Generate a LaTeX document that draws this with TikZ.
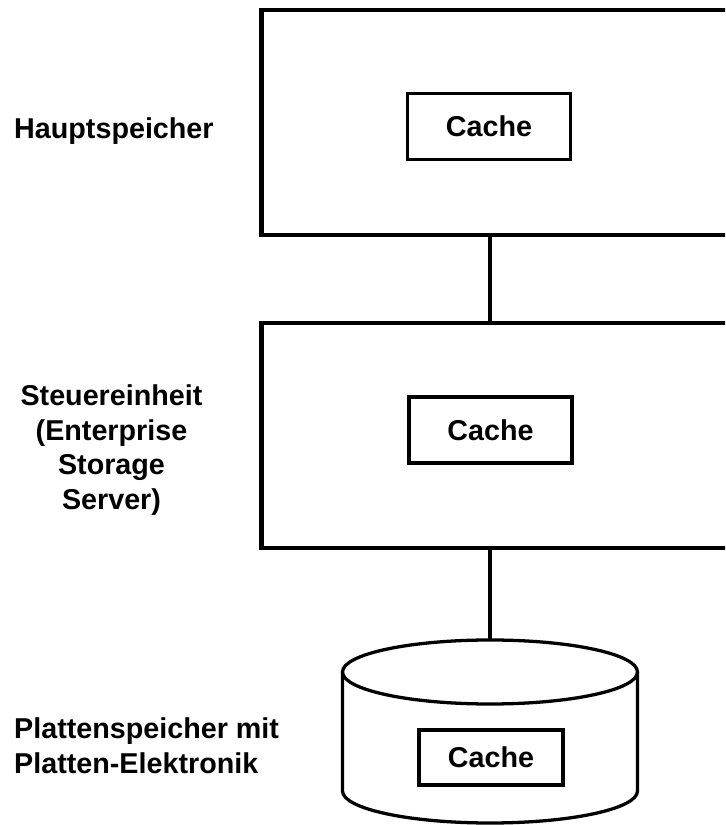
\documentclass[tikz,border=0pt]{standalone}
\usepackage{fontspec}
\setmainfont{Liberation Sans}
\usetikzlibrary{positioning, calc}

\begin{document}
\begin{tikzpicture}[x=0.03cm, y=0.03cm,
    every node/.style={font=\fontsize{24.5}{29.5}\selectfont\bfseries},
    unitbox/.style={draw, line width=3.6pt, minimum width=15.6cm, minimum height=6.75cm},
    cachebox/.style={draw, line width=3.2pt, minimum width=4.89cm, minimum height=1.98cm},
    label/.style={inner sep=0pt},
    link/.style={line width=2.8pt}]
      \useasboundingbox (0, 0) rectangle (725, 825);
      \clip (0, 0) rectangle (725, 825);

      % Hauptspeicher
      \node[unitbox] (haupt) at (521.5, 702.5) {};
      \node[cachebox] (hauptcache) at (489, 698.5) {Cache};
      \node[label, anchor=base west] (hauptlabel) at (14, 686) {Hauptspeicher};

      % Steuereinheit
      \node[unitbox] (steuer) at (521.5, 389.5) {};
      \node[cachebox] (steuercache) at (490.5, 395) {Cache};
      \node[label, align=center] (steuerlabel) at (111.5, 375)
        {Steuereinheit\\(Enterprise\\Storage\\Server)};

      % Plattenspeicher
      \draw[link] (490, 153) ellipse [x radius=147.5, y radius=32];
      \draw[link] (342.5, 153) -- (342.5, 34)
        arc[start angle=180, end angle=360, x radius=147.5, y radius=32] -- (637.5, 153);
      \coordinate (platte) at (490, 185);
      \node[cachebox, minimum width=4.32cm, minimum height=1.65cm] (plattecache) at (491, 67.5) {Cache};
      \node[label, align=left, anchor=west] (plattelabel) at (14, 79)
        {Plattenspeicher mit\\Platten-Elektronik};

      \draw[link] (haupt.south -| platte) -- (steuer.north -| platte);
      \draw[link] (steuer.south -| platte) -- (platte);
    \end{tikzpicture}
\end{document}
